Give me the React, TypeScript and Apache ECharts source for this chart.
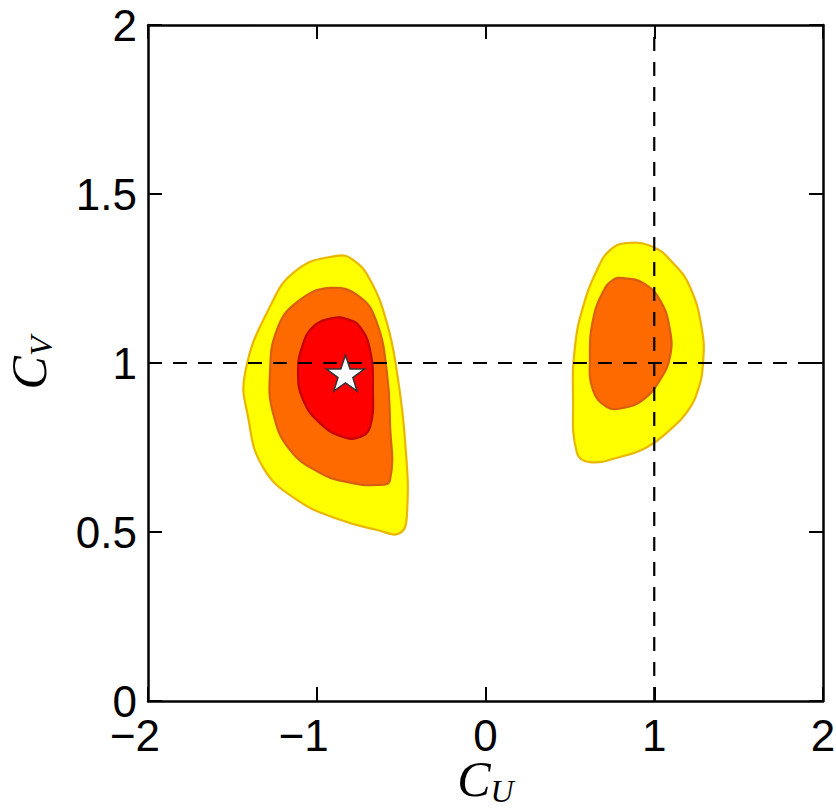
import React, { useEffect, useRef } from "react";
import * as echarts from "echarts";

// Axis settings
const xTicks = [-2, -1, 0, 1, 2];
const yTicks = [0, 0.5, 1, 1.5, 2];

// Reference (dashed) lines
const refX = 1;
const refY = 1;

// Best-fit point (star)
const bestFit: [number, number] = [-0.83, 0.97];

// Contour polygons (data coordinates C_U, C_V)
const leftOuter: [number, number][] = [
  [-0.882, 1.317], [-0.785, 1.305], [-0.684, 1.246], [-0.584, 1.118], [-0.524, 0.97],
  [-0.477, 0.772], [-0.465, 0.556], [-0.507, 0.497], [-0.643, 0.506], [-0.862, 0.536],
  [-1.117, 0.595], [-1.319, 0.692], [-1.407, 0.84], [-1.425, 0.97], [-1.277, 1.167],
  [-1.119, 1.275],
];
const leftMiddle: [number, number][] = [
  [-0.921, 1.222], [-0.744, 1.195], [-0.643, 1.118], [-0.584, 0.97], [-0.566, 0.822],
  [-0.566, 0.654], [-0.643, 0.639], [-0.821, 0.648], [-0.981, 0.675], [-1.159, 0.743],
  [-1.259, 0.852], [-1.277, 0.97], [-1.236, 1.098], [-1.117, 1.18],
];
const leftInner: [number, number][] = [
  [-0.904, 1.133], [-0.821, 1.13], [-0.744, 1.107], [-0.684, 1.038], [-0.667, 0.92],
  [-0.684, 0.811], [-0.744, 0.781], [-0.844, 0.781], [-0.981, 0.822], [-1.081, 0.891],
  [-1.111, 0.97], [-1.087, 1.047], [-1.022, 1.107],
];
const rightOuter: [number, number][] = [
  [0.839, 1.355], [0.993, 1.343], [1.111, 1.296], [1.212, 1.225], [1.283, 1.098],
  [1.289, 1.0], [1.259, 0.92], [1.194, 0.855], [1.093, 0.802], [0.957, 0.751],
  [0.797, 0.722], [0.619, 0.707], [0.542, 0.734], [0.519, 0.899], [0.53, 1.047],
  [0.578, 1.166], [0.661, 1.275], [0.738, 1.334],
];
const rightMiddle: [number, number][] = [
  [0.815, 1.251], [0.933, 1.237], [1.034, 1.186], [1.093, 1.098], [1.093, 1.018],
  [1.034, 0.95], [0.933, 0.891], [0.815, 0.867], [0.72, 0.87], [0.637, 0.92],
  [0.619, 1.018], [0.637, 1.127], [0.696, 1.21], [0.756, 1.246],
];

const levels = [
  { name: "outer", polys: [leftOuter, rightOuter], fill: "#FFFF00", stroke: "#E9B600" },
  { name: "middle", polys: [leftMiddle, rightMiddle], fill: "#FF6A00", stroke: "#D95E10" },
  { name: "inner", polys: [leftInner], fill: "#FF0000", stroke: "#C40000" },
];

const STAR =
  "path://M50,0 L61.8,35.1 L98.1,35.1 L68.8,56.7 L79.4,91 L50,70 L20.6,91 L31.2,56.7 L1.9,35.1 L38.2,35.1 Z";

const labelFont = "'Liberation Sans', Arial, Helvetica, sans-serif";
const mathFont = "'Liberation Serif', 'Times New Roman', serif";

export default function App() {
  const ref = useRef<HTMLDivElement>(null);

  useEffect(() => {
    document.body.style.margin = "0";
    if (!ref.current) return;
    const chart = echarts.init(ref.current, undefined, { renderer: "svg" });

    const tickLen = 14;
    const axisLine = { show: true, onZero: false, lineStyle: { color: "#000", width: 2.5 } };
    const axisTick = { show: true, inside: true, length: tickLen, lineStyle: { color: "#000", width: 2 } };

    const contourSeries = levels.map((lv) => ({
      type: "custom",
      name: lv.name,
      coordinateSystem: "cartesian2d",
      silent: true,
      clip: true,
      data: lv.polys.map((_, i) => [i]),
      renderItem: (params: any, api: any) => {
        const poly = lv.polys[params.dataIndex];
        const pts = poly.map((p) => api.coord(p));
        return {
          type: "polygon",
          shape: { points: pts, smooth: 0.45 },
          style: { fill: lv.fill, stroke: lv.stroke, lineWidth: 2.2 },
        };
      },
    }));

    const nameRich = () => ({
      c: { fontSize: 50, fontFamily: mathFont, fontStyle: "italic", color: "#000", lineHeight: 50 },
      u: {
        fontSize: 32,
        fontFamily: mathFont,
        fontStyle: "italic",
        color: "#000",
        lineHeight: 32,
        padding: [24, 0, 0, 0],
      },
    });

    const option: any = {
      animation: false,
      backgroundColor: "#fff",
      grid: {
        left: 148,
        right: 13,
        top: 25,
        bottom: 109,
        containLabel: false,
        outerBoundsMode: "none",
      },
      xAxis: [
        {
          type: "value",
          min: xTicks[0],
          max: xTicks[xTicks.length - 1],
          interval: 1,
          position: "bottom",
          axisLine,
          axisTick,
          splitLine: { show: false },
          axisLabel: {
            margin: 12,
            color: "#000",
            fontSize: 44,
            fontFamily: labelFont,
            formatter: (v: number) =>
              v < 0 ? `{n|\u2212${Math.abs(v)}}` : `{d|${v}}`,
            rich: {
              n: { fontSize: 44, fontFamily: labelFont, color: "#000", padding: [0, 26, 0, 0] },
              d: { fontSize: 44, fontFamily: labelFont, color: "#000" },
            },
          },
          name: "{c|C}{u|U}",
          nameLocation: "middle",
          nameGap: 53,
          nameMoveOverlap: false,
          nameTextStyle: { rich: nameRich() },
        },
        {
          type: "value",
          min: xTicks[0],
          max: xTicks[xTicks.length - 1],
          interval: 1,
          position: "top",
          axisLine,
          axisTick,
          axisLabel: { show: false },
          splitLine: { show: false },
        },
      ],
      yAxis: [
        {
          type: "value",
          min: yTicks[0],
          max: yTicks[yTicks.length - 1],
          interval: 0.5,
          position: "left",
          axisLine,
          axisTick,
          splitLine: { show: false },
          axisLabel: {
            margin: 11,
            color: "#000",
            fontSize: 44,
            fontFamily: labelFont,
            formatter: (v: number) => `${v}`,
          },
          name: "{c|C}{u|V}",
          nameLocation: "middle",
          nameGap: 94,
          nameTextStyle: { rich: nameRich() },
        },
        {
          type: "value",
          min: yTicks[0],
          max: yTicks[yTicks.length - 1],
          interval: 0.5,
          position: "right",
          axisLine,
          axisTick,
          axisLabel: { show: false },
          splitLine: { show: false },
        },
      ],
      series: [
        ...contourSeries,
        {
          type: "line",
          name: "refX",
          data: [
            [refX, yTicks[0]],
            [refX, yTicks[yTicks.length - 1]],
          ],
          symbol: "none",
          silent: true,
          lineStyle: { color: "#000", width: 2.2, type: [14, 11] },
          z: 5,
        },
        {
          type: "line",
          name: "refY",
          data: [
            [xTicks[0], refY],
            [xTicks[xTicks.length - 1], refY],
          ],
          symbol: "none",
          silent: true,
          lineStyle: { color: "#000", width: 2.2, type: [14, 11] },
          z: 5,
        },
        {
          type: "scatter",
          name: "best fit",
          data: [bestFit],
          symbol: STAR,
          symbolSize: [38, 36],
          itemStyle: { color: "#fff", opacity: 1, borderColor: "#333", borderWidth: 1.5 },
          z: 10,
        },
      ],
    };

    chart.setOption(option);
    return () => chart.dispose();
  }, []);

  return <div ref={ref} style={{ width: 836, height: 810 }} />;
}
